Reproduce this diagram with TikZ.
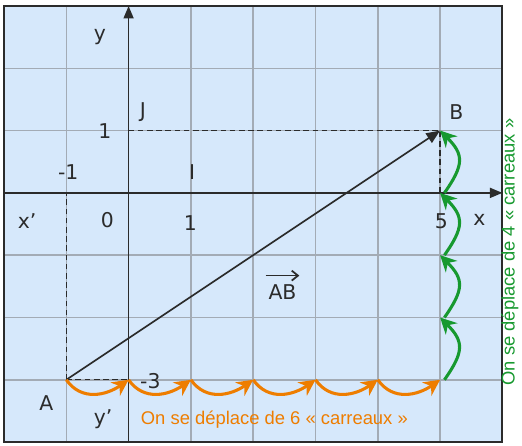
\documentclass[tikz,border=0pt]{standalone}
\usepackage{fontspec}
\setsansfont{Liberation Sans}
\newfontfamily\labelfont{DejaVu Sans}
\usetikzlibrary{arrows.meta, calc}
\definecolor{cbg}{HTML}{D6E8FB}
\definecolor{cgrid}{HTML}{A3ABB5}
\definecolor{cdark}{HTML}{2B2B2B}
\definecolor{corange}{HTML}{EE7D00}
\definecolor{cgreen}{HTML}{17992F}
\tikzset{
  every picture/.style={line width=0.7pt},
  lbl/.style={font=\labelfont\fontsize{9.3}{11}\selectfont, text=cdark, inner sep=1pt},
  axis/.style={draw=cdark, line width=0.8pt, -{Triangle[length=2mm, width=1.6mm]}},
  guide/.style={draw=cdark, dash pattern=on 2.6pt off 1.6pt, line width=0.6pt},
  hstep/.style={draw=corange, line width=1.4pt, -{Stealth[length=2.6mm, width=2.6mm]}},
  vstep/.style={draw=cgreen, line width=1.4pt, -{Stealth[length=2.6mm, width=2.6mm]}},
  note/.style={font=\sffamily\fontsize{8.4}{10}\selectfont, inner sep=1pt},
}

\begin{document}
\begin{tikzpicture}
  \useasboundingbox (-2.064,-4.048) rectangle (6.315,3.096);
  % squared paper
  \fill[cbg] (-2,-4) rectangle (6,3);
  \draw[cgrid, line width=0.7pt] (-2,-4) grid (6,3);
  \draw[cdark, line width=1pt] (-2,-4) rectangle (6,3);

  % axes
  \coordinate (xl) at (-2,0); \coordinate (xr) at (6,0);
  \coordinate (yb) at (0,-4); \coordinate (yt) at (0,3);
  \draw[axis] (xl) -- (xr);
  \draw[axis] (yb) -- (yt);

  % points and projections
  \coordinate (A) at (-1,-3); \coordinate (B) at (5,1);
  \coordinate (Ax) at (-1,0); \coordinate (Ay) at (0,-3);
  \coordinate (Bx) at (5,0);  \coordinate (By) at (0,1);
  \draw[guide] (A) -- (Ax);
  \draw[guide] (A) -- (Ay);
  \draw[guide] (By) -- (B) -- (Bx);
  \draw[cdark, line width=0.75pt, -{Triangle[length=2.2mm, width=1.8mm]}] (A) -- (B);

  % labels
  \node[lbl] (ly) at (-0.46,2.5) {y};
  \node[lbl] (lJ) at (0.23,1.3) {J};
  \node[lbl] (lyone) at (-0.38,1.0) {1};
  \node[lbl] (lxmone) at (-0.97,0.34) {-1};
  \node[lbl] (lI) at (1.02,0.34) {I};
  \node[lbl] (lxp) at (-1.63,-0.45) {x’};
  \node[lbl] (lzero) at (-0.34,-0.43) {0};
  \node[lbl] (lxone) at (0.99,-0.48) {1};
  \node[lbl] (lfive) at (5.02,-0.45) {5};
  \node[lbl] (lx) at (5.63,-0.43) {x};
  \node[lbl] (lB) at (5.26,1.3) {B};
  \node[lbl] (lA) at (-1.32,-3.37) {A};
  \node[lbl] (lyp) at (-0.41,-3.64) {y’};
  \node[lbl] (lmthree) at (0.35,-3.02) {-3};
  \node[lbl] (lAB) at (2.47,-1.6) {AB};
  \draw[cdark, line width=0.8pt, -{Straight Barb[length=1mm, width=1.6mm]}]
    ([yshift=3pt]lAB.north west) -- ([yshift=3pt]lAB.north east);

  % 6 steps to the right, 4 steps up
  \foreach \i in {-1,...,5} \coordinate (h\i) at (\i,-3);
  \foreach \a/\b in {-1/0,0/1,1/2,2/3,3/4,4/5}
    \draw[hstep] (h\a) to[out=-55, in=-145, looseness=1.1] (h\b);
  \foreach \k in {-3,...,1} \coordinate (v\k) at (5,\k);
  \foreach \a/\b in {-3/-2,-2/-1,-1/0,0/1}
    \draw[vstep] ($(v\a)+(0.07,0)$) to[out=55, in=-45, looseness=1.4] (v\b);

  \node[note, text=corange] (hnote) at (2.34,-3.64) {On se déplace de 6 « carreaux »};
  \node[note, text=cgreen, rotate=90] (vnote) at (6.12,-0.95) {On se déplace de 4 « carreaux »};
\end{tikzpicture}
\end{document}
